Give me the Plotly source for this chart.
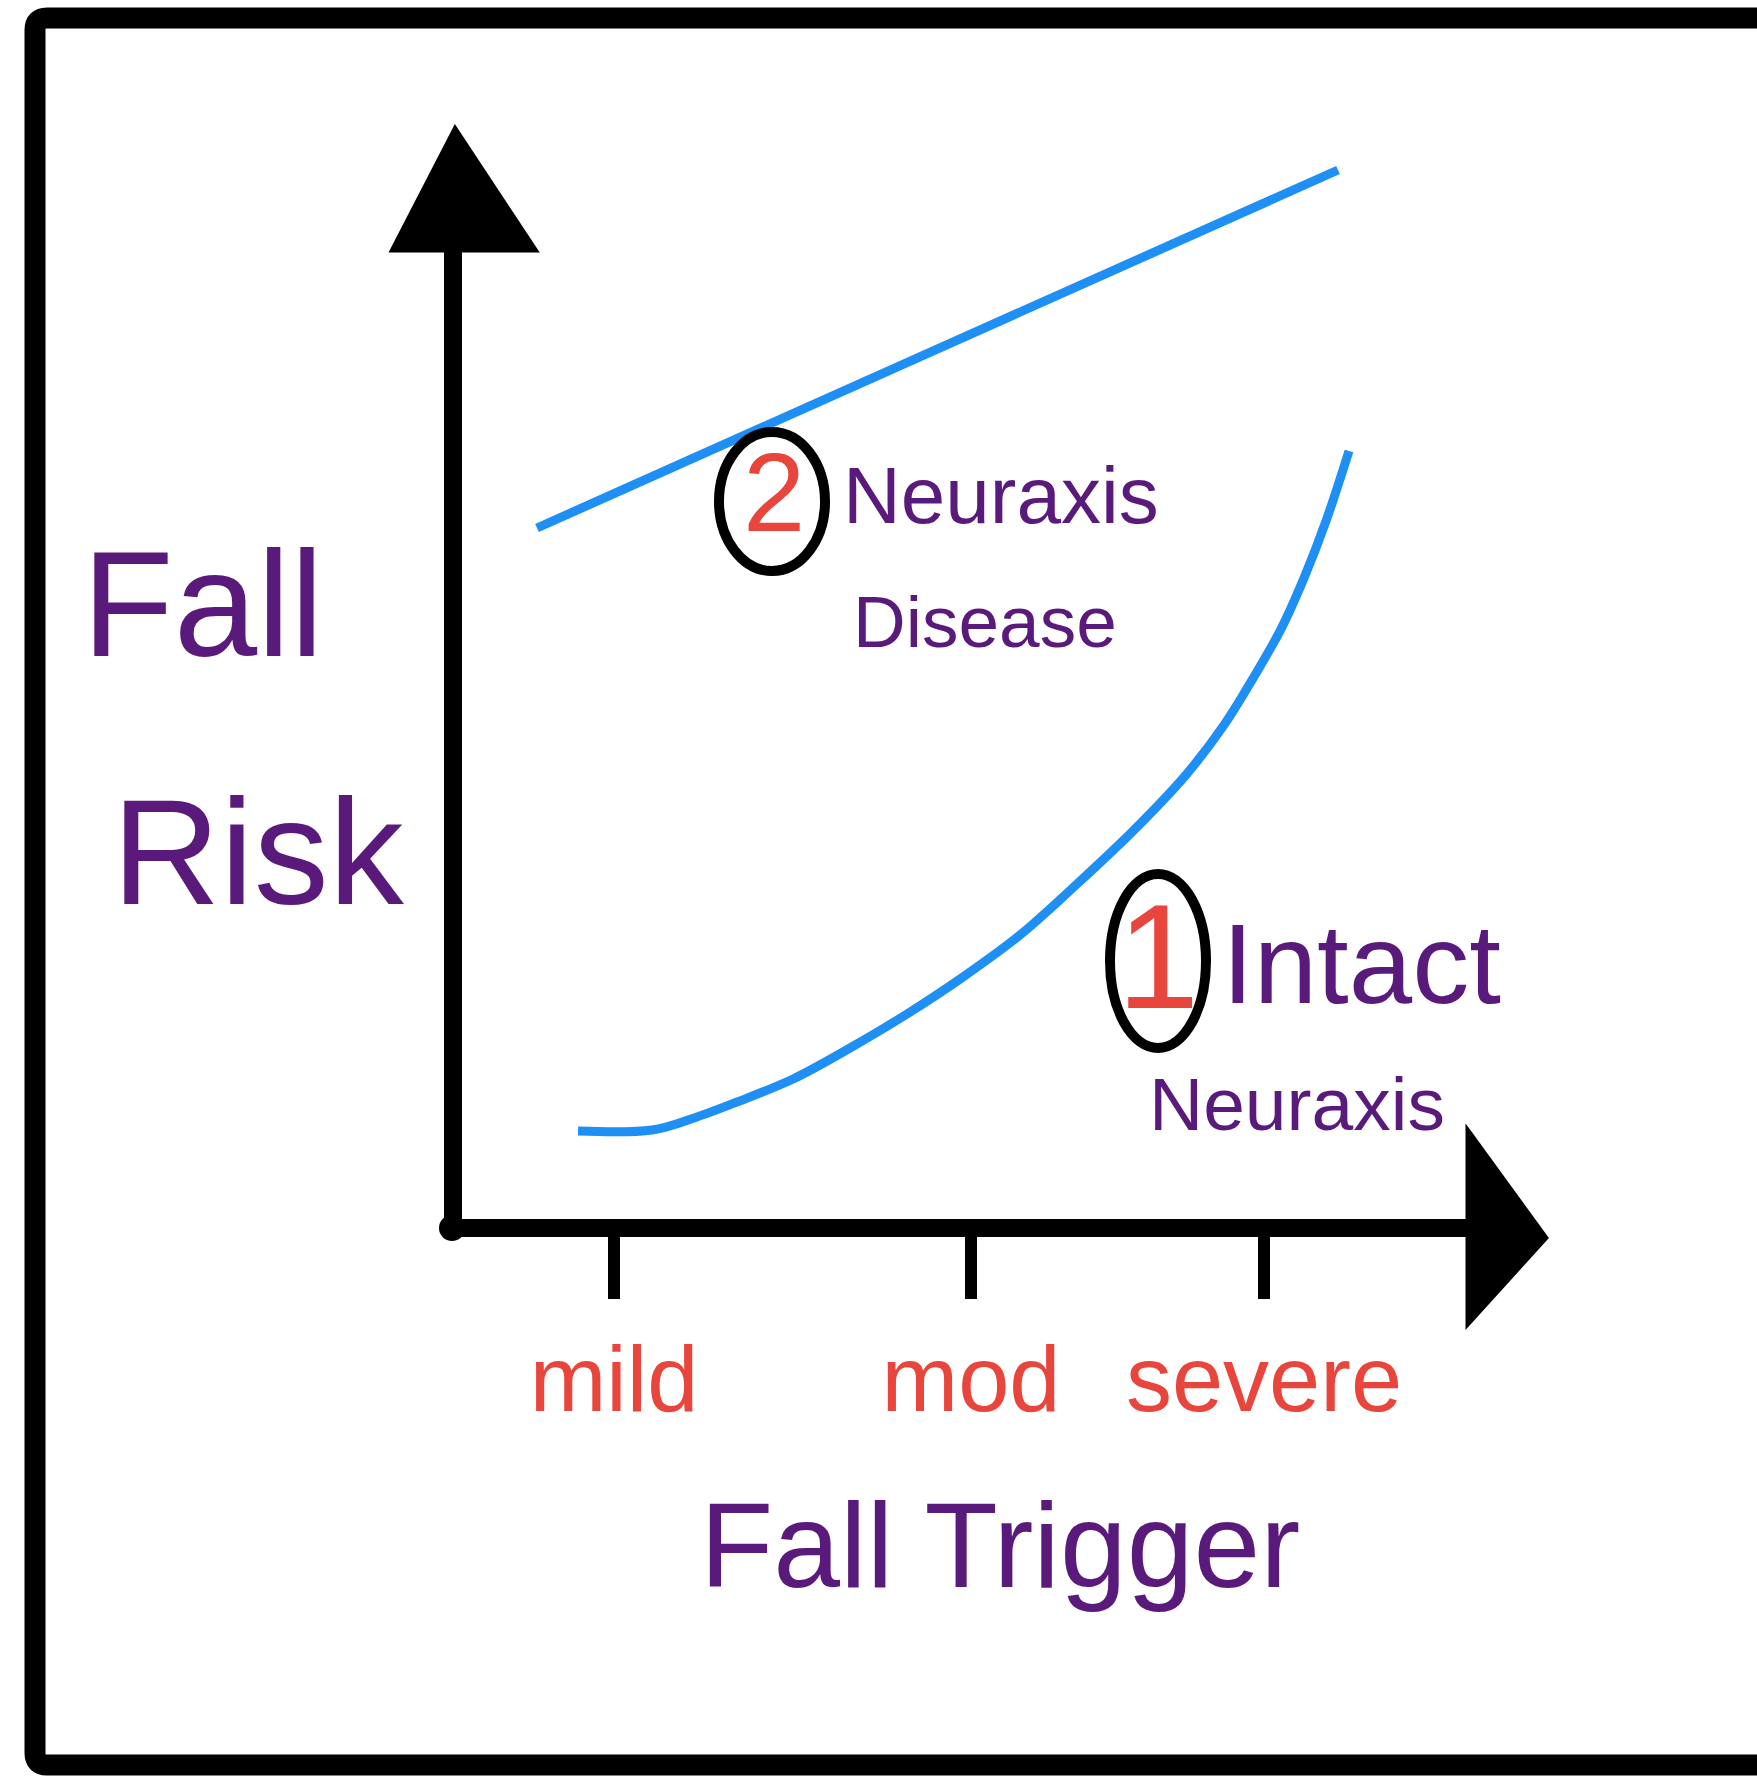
import plotly.graph_objects as go

# ---------------- data ----------------
# x: fall trigger severity units, y: fall risk units (axis origin = 0,0)
severity_labels = ["mild", "mod", "severe"]
severity_positions = [1.61, 5.18, 8.11]

intact_x = [1.25, 1.99, 2.38, 2.84, 3.40, 3.97, 4.54, 5.10, 5.67, 6.24, 6.81, 7.32, 7.71, 7.99, 8.28, 8.51, 8.73, 8.96]
intact_y = [0.97, 0.98, 1.09, 1.26, 1.49, 1.80, 2.14, 2.51, 2.93, 3.44, 3.98, 4.52, 5.03, 5.48, 5.99, 6.50, 7.07, 7.77]

disease_x = [0.84, 8.85]
disease_y = [7.00, 10.58]

x_axis_end = 10.17
y_axis_end = 9.79

# ---------------- style ----------------
W, H = 1757, 1777
X_RANGE = [-4.53, 13.04]
Y_RANGE = [-5.49, 12.28]
BLUE = "#1E8FF5"
PURPLE = "#5A1A7B"
RED = "#E8453C"
FONT = "Liberation Sans, Arial, sans-serif"

fig = go.Figure()
fig.add_trace(go.Scatter(x=disease_x, y=disease_y, mode="lines",
                         line=dict(color=BLUE, width=9), showlegend=False, hoverinfo="skip"))
fig.add_trace(go.Scatter(x=intact_x, y=intact_y, mode="lines",
                         line=dict(color=BLUE, width=9, shape="spline", smoothing=1.0),
                         showlegend=False, hoverinfo="skip"))

shapes = []
# outer frame (right side runs off the page)
fx0 = 35 / W
fyt = 1 - 18 / H
fyb = 1 - 1765 / H
rx, ry = 12 / W, 12 / H
shapes.append(dict(type="path", xref="paper", yref="paper",
                   path=f"M 1.05,{fyt} L {fx0+rx},{fyt} Q {fx0},{fyt} {fx0},{fyt-ry} "
                        f"L {fx0},{fyb+ry} Q {fx0},{fyb} {fx0+rx},{fyb} L 1.05,{fyb}",
                   line=dict(color="black", width=21)))
# axis lines
shapes.append(dict(type="line", xref="x", yref="y", x0=0, y0=0, x1=0, y1=y_axis_end,
                   line=dict(color="black", width=18)))
shapes.append(dict(type="line", xref="x", yref="y", x0=0, y0=0, x1=x_axis_end, y1=0,
                   line=dict(color="black", width=18)))
# origin dot
shapes.append(dict(type="circle", xref="x", yref="y", xsizemode="pixel", ysizemode="pixel",
                   xanchor=0, yanchor=0, x0=-14, x1=12, y0=-13, y1=13,
                   fillcolor="black", line=dict(width=0)))
# arrow heads
ya = y_axis_end
shapes.append(dict(type="path", xref="x", yref="y",
                   path=f"M -0.62,{ya-0.02} L 0.02,{ya+1.22} L 0.84,{ya-0.02} Z",
                   fillcolor="black", line=dict(color="black", width=3)))
xa = x_axis_end
shapes.append(dict(type="path", xref="x", yref="y",
                   path=f"M {xa-0.03},1.00 L {xa+0.77},-0.10 L {xa-0.03},-0.98 Z",
                   fillcolor="black", line=dict(color="black", width=3)))
# circled numbers
shapes.append(dict(type="circle", xref="x", yref="y", x0=2.66, x1=3.72, y0=6.57, y1=7.96,
                   line=dict(color="black", width=10)))
shapes.append(dict(type="circle", xref="x", yref="y", x0=6.57, x1=7.53, y0=1.80, y1=3.54,
                   line=dict(color="black", width=10)))

ann = []
def txt(text, x, y, size, color, xanchor="center"):
    ann.append(dict(text=text, x=x, y=y, xref="x", yref="y", showarrow=False,
                    xanchor=xanchor, yanchor="middle",
                    font=dict(family=FONT, size=size, color=color)))

txt("2", 3.21, 7.36, 112, RED)
txt("Neuraxis", 3.88, 7.33, 80, PURPLE, "left")
txt("Disease", 3.98, 6.07, 73, PURPLE, "left")
txt("1", 7.05, 2.72, 148, RED)
txt("Intact", 7.67, 2.65, 114, PURPLE, "left")
txt("Neuraxis", 8.44, 1.24, 75, PURPLE)
txt("Fall", -2.50, 6.24, 150, PURPLE)
txt("Risk", -1.95, 3.76, 150, PURPLE)
txt("Fall Trigger", 5.47, -3.17, 120, PURPLE)

fig.update_layout(
    width=W, height=H,
    margin=dict(l=0, r=0, t=0, b=0),
    paper_bgcolor="white", plot_bgcolor="white",
    shapes=shapes, annotations=ann,
    xaxis=dict(range=X_RANGE, tickvals=severity_positions, ticktext=severity_labels,
               ticks="outside", ticklen=70, tickwidth=12, tickcolor="black",
               showline=False, showgrid=False, zeroline=False,
               anchor="free", position=1 - 1228 / H,
               tickfont=dict(family=FONT, size=92, color=RED), ticklabelstandoff=2),
    yaxis=dict(range=Y_RANGE, visible=False),
)

fig.write_html("out.html", config={"displayModeBar": False},
               post_script="document.body.style.margin='0';")
